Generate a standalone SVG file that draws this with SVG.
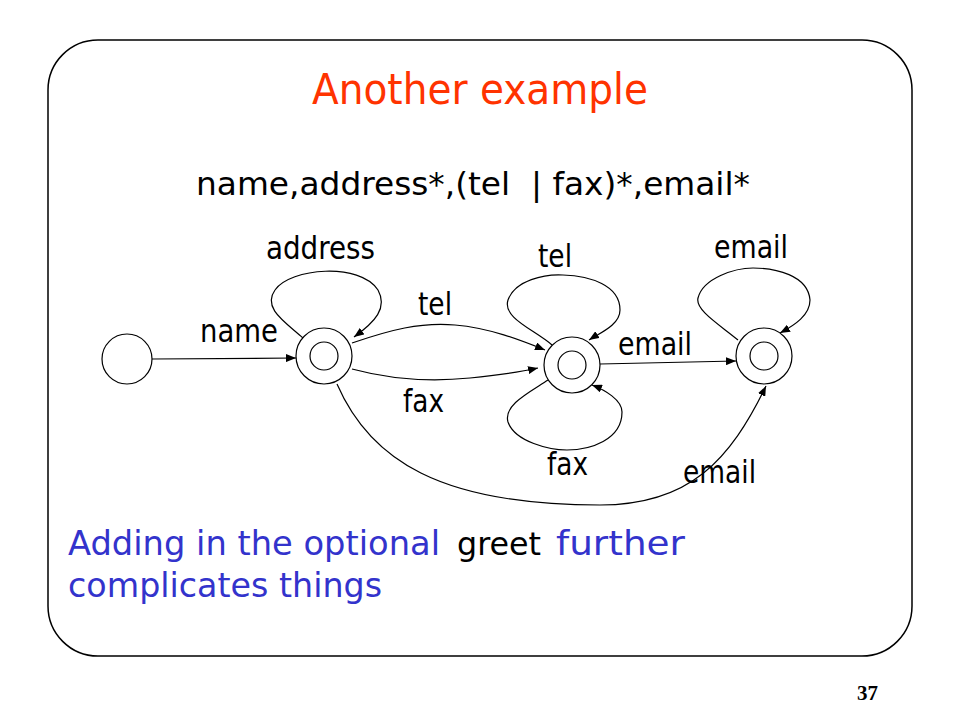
<svg xmlns="http://www.w3.org/2000/svg" width="960" height="720" viewBox="0 0 960 720">
<style>
.frame{fill:#fff;stroke:#000;stroke-width:1.5}
.st{fill:#fff;stroke:#000;stroke-width:1.2}
.edge{fill:none;stroke:#000;stroke-width:1.2;marker-end:url(#ah)}
.lbl{font-family:"DejaVu Sans",sans-serif;font-size:32px;fill:#000}
.comic{font-family:"DejaVu Sans",sans-serif}
</style>
<defs>
<marker id="ah" viewBox="0 0 10 8" refX="10" refY="4" markerWidth="10" markerHeight="8" markerUnits="userSpaceOnUse" orient="auto">
<path d="M0,0 L10,4 L0,8 z" fill="#000"/>
</marker>
</defs>
<rect width="960" height="720" fill="#fff"/>
<rect class="frame" x="48" y="40" width="864" height="616" rx="50" ry="50"/>
<text class="comic" x="312" y="104" font-size="42" fill="#FF3300" textLength="336" lengthAdjust="spacingAndGlyphs">Another example</text>
<text class="lbl" x="196" y="195" font-size="38" textLength="554" lengthAdjust="spacingAndGlyphs" xml:space="preserve">name,address*,(tel  | fax)*,email*</text>

<g id="connectors">
<path class="edge" d="M152,359 L296,358"/>
<path class="edge" d="M303,338 C285,322 262,308 275,290 C290,268 360,262 378,290 C388,308 375,322 354,337"/>
<path class="edge" d="M352,343 C390,330 420,322 455,325 C490,328 520,340 545,350"/>
<path class="edge" d="M352,369 C400,382 440,381 470,378 C500,375 520,372 538,368"/>
<path class="edge" d="M552,345 C535,330 502,318 508,300 C515,280 545,274 563,275 C590,276 620,285 620,310 C620,325 600,333 589,340"/>
<path class="edge" d="M548,380 C530,392 503,405 508,422 C515,442 550,450 567,450 C590,450 622,440 622,412 C622,400 605,390 592,385"/>
<path class="edge" d="M600,364 L736,361"/>
<path class="edge" d="M738,340 C720,325 695,310 698,298 C703,278 735,268 753,268 C775,268 808,275 810,300 C810,315 795,325 780,333"/>
<path class="edge" d="M337,384 C370,460 440,505 600,505 C690,505 730,460 766,386"/>
</g>

<g id="start"><circle class="st" cx="127" cy="359" r="25"/></g>
<g id="s1"><circle class="st" cx="324" cy="356" r="28"/><circle class="st" cx="324" cy="356" r="14"/></g>
<g id="s2"><circle class="st" cx="572" cy="365" r="28"/><circle class="st" cx="572" cy="365" r="14"/></g>
<g id="s3"><circle class="st" cx="764" cy="356" r="28"/><circle class="st" cx="764" cy="356" r="14"/></g>

<g id="labels">
<text class="lbl" x="200" y="342" textLength="78" lengthAdjust="spacingAndGlyphs">name</text>
<text class="lbl" x="266" y="259" textLength="109" lengthAdjust="spacingAndGlyphs">address</text>
<text class="lbl" x="418" y="315" textLength="34" lengthAdjust="spacingAndGlyphs">tel</text>
<text class="lbl" x="538" y="267" textLength="34" lengthAdjust="spacingAndGlyphs">tel</text>
<text class="lbl" x="403" y="412" textLength="41" lengthAdjust="spacingAndGlyphs">fax</text>
<text class="lbl" x="547" y="475" textLength="41" lengthAdjust="spacingAndGlyphs">fax</text>
<text class="lbl" x="714" y="258" textLength="74" lengthAdjust="spacingAndGlyphs">email</text>
<text class="lbl" x="618" y="355" textLength="74" lengthAdjust="spacingAndGlyphs">email</text>
<text class="lbl" x="683" y="483" textLength="73" lengthAdjust="spacingAndGlyphs">email</text>
</g>

<text class="comic" x="68" y="555" font-size="34" fill="#3333CC" textLength="372" lengthAdjust="spacingAndGlyphs">Adding in the optional</text>
<text class="lbl" x="457" y="555" font-size="34" textLength="84" lengthAdjust="spacingAndGlyphs">greet</text>
<text class="comic" x="556" y="555" font-size="34" fill="#3333CC" textLength="129" lengthAdjust="spacingAndGlyphs">further</text>
<text class="comic" x="68" y="597" font-size="34" fill="#3333CC" textLength="314" lengthAdjust="spacingAndGlyphs">complicates things</text>
<text x="857" y="700" font-family="'Liberation Serif',serif" font-weight="bold" font-size="21" fill="#000">37</text>
</svg>
